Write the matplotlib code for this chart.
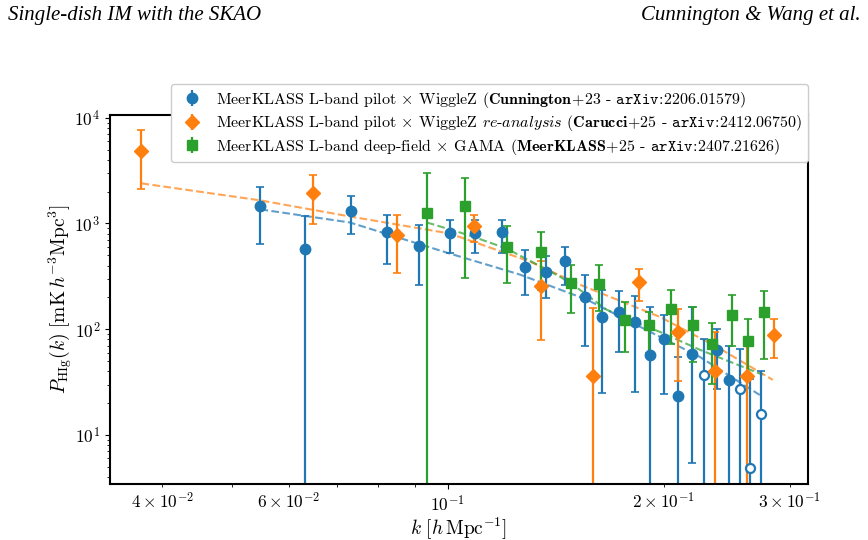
import numpy as np
import matplotlib
matplotlib.use("Agg")
import matplotlib.pyplot as plt

plt.rcParams['font.family'] = 'serif'
plt.rcParams['font.serif'] = ['cmr10', 'DejaVu Serif']
plt.rcParams['mathtext.fontset'] = 'cm'
plt.rcParams['axes.formatter.use_mathtext'] = True
plt.rcParams['axes.unicode_minus'] = False

# ---- Cunnington+23 (blue) ----
k_c23 = [0.0548, 0.0632, 0.0732, 0.0822, 0.0911, 0.1006, 0.1091, 0.1189, 0.128, 0.137,
         0.1456, 0.1553, 0.164, 0.1733, 0.1823, 0.1912, 0.2001, 0.2094, 0.2189, 0.2276,
         0.2372, 0.2465, 0.2554, 0.2637, 0.2733]
P_c23 = [1449, 579, 1300, 822, 618, 804, 804, 822, 391, 351,
         437, 203, 131, 147, 118, 57.3, 81.3, 23.4, 58.6, 37.1,
         64, 33.2, 27.3, 4.86, 15.8]
lo_c23 = [646, 0, 803, 418, 264, 531, 520, 520, 212, 199,
          264, 70, 25, 61, 25.6, 0, 24.5, 0, 5.43, 0,
          27.3, 0, 0, 0, 0]
hi_c23 = [2193, 1165, 1803, 1191, 957, 1067, 1067, 1067, 567, 497,
          593, 329, 237, 232, 208, 163, 137, 55, 163, 81.3,
          101, 69.8, 65.3, 34, 40.5]
neg_c23 = [0, 0, 0, 0, 0, 0, 0, 0, 0, 0,
           0, 0, 0, 0, 0, 0, 0, 0, 0, 1,
           0, 0, 1, 1, 1]

# ---- Carucci+25 (orange) ----
k_c25 = [0.0374, 0.0648, 0.0849, 0.1087, 0.1348, 0.1593, 0.1847, 0.2094, 0.2357, 0.2612, 0.2849]
P_c25 = [4808, 1923, 770, 937, 258, 36.2, 282, 94.6, 40.5, 36.2, 88.7]
lo_c25 = [2099, 978, 343, 675, 79.4, 0, 186, 32.5, 0, 0, 53.7]
hi_c25 = [7620, 2851, 1191, 1191, 437, 160, 374, 156, 94.6, 71, 126]

# ---- MeerKLASS+25 (green) ----
k_mk = [0.0935, 0.1056, 0.1208, 0.1348, 0.1484, 0.1624, 0.1765, 0.1906, 0.2046, 0.2196,
        0.2335, 0.2489, 0.2620, 0.2760]
P_mk = [1244, 1449, 593, 543, 276, 270, 121, 110, 156, 110,
        72.9, 137, 77.8, 147]
lo_mk = [0, 308, 276, 237, 143, 150, 61, 60, 72.9, 49.2,
         30.4, 69.8, 36.2, 52.5]
hi_mk = [2980, 2672, 937, 822, 408, 408, 182, 147, 237, 163,
         115, 212, 126, 232]

# ---- model curves (dashed) ----
k_mod_c23 = [0.0548, 0.0730, 0.1006, 0.1260, 0.1563, 0.1853, 0.2246, 0.2723]
P_mod_c23 = [1358, 1022, 520, 329, 190.6, 105.7, 54.8, 23.9]
k_mod_c25 = [0.0374, 0.0548, 0.0730, 0.1006, 0.1301, 0.1528, 0.1975, 0.2372, 0.2840]
P_mod_c25 = [2394, 1652, 1165, 804, 437, 264, 131, 68.2, 33.2]
k_mod_mk = [0.0935, 0.1073, 0.1208, 0.1433, 0.1527, 0.1666, 0.1835, 0.1975, 0.2246, 0.2750]
P_mod_mk = [1022, 770, 579, 315, 237, 153, 115, 94.6, 64, 37.1]

lab_c23 = (r'MeerKLASS L-band pilot $\times$ WiggleZ ($\mathbf{Cunnington\!+\!23}$ - '
           r'$\mathtt{arXiv\!:\!2206.01579}$)')
lab_c25 = (r'MeerKLASS L-band pilot $\times$ WiggleZ $\mathit{re}$-$\mathit{analysis}$ '
           r'($\mathbf{Carucci\!+\!25}$ - $\mathtt{arXiv\!:\!2412.06750}$)')
lab_mk = (r'MeerKLASS L-band deep-field $\times$ GAMA ($\mathbf{MeerKLASS\!+\!25}$ - '
          r'$\mathtt{arXiv\!:\!2407.21626}$)')

C_BLUE, C_ORANGE, C_GREEN = '#1f77b4', '#ff7f0e', '#2ca02c'

fig = plt.figure(figsize=(8.68, 5.40), dpi=100)
ax = fig.add_axes([0.1267, 0.1037, 0.8042, 0.6833])
ax.set_xscale('log')
ax.set_yscale('log')

ax.plot(k_mod_c23, P_mod_c23, ls='--', color=C_BLUE, lw=1.5, alpha=0.7, zorder=1)
ax.plot(k_mod_c25, P_mod_c25, ls='--', color=C_ORANGE, lw=1.5, alpha=0.7, zorder=1)
ax.plot(k_mod_mk, P_mod_mk, ls='--', color=C_GREEN, lw=1.5, alpha=0.7, zorder=1)


def draw(k, P, lo, hi, color, marker, ms, label, neg=None):
    k = np.array(k); P = np.array(P); lo = np.array(lo, float); hi = np.array(hi, float)
    yerr = np.vstack([P - lo, hi - P])
    ax.errorbar(k, P, yerr=yerr, fmt='none', ecolor=color, elinewidth=1.6,
                capsize=3, capthick=1.2, zorder=2)
    if neg is None:
        neg = np.zeros(len(k), bool)
    neg = np.array(neg, bool)
    ax.plot(k[~neg], P[~neg], ls='none', marker=marker, ms=ms, color=color, zorder=3)
    if neg.any():
        ax.plot(k[neg], P[neg], ls='none', marker=marker, ms=ms - 1, mfc='white',
                mec=color, mew=1.6, zorder=3)
    ax.errorbar([], [], yerr=[], fmt=marker, color=color, ms=ms, elinewidth=1.6,
                capsize=3, capthick=1.2, label=label)


draw(k_c23, P_c23, lo_c23, hi_c23, C_BLUE, 'o', 7.5, lab_c23, neg_c23)
draw(k_c25, P_c25, lo_c25, hi_c25, C_ORANGE, 'D', 7, lab_c25)
draw(k_mk, P_mk, lo_mk, hi_mk, C_GREEN, 's', 7, lab_mk)

ax.set_xlim(0.0338, 0.318)
ax.set_ylim(3.44, 1.06e4)

for s in ax.spines.values():
    s.set_linewidth(1.5)
ax.tick_params(which='both', labelsize=12.5)

ax.set_xlabel(r'$k\ [h\,{\rm Mpc}^{-1}]$', fontsize=14, labelpad=1)
ax.set_ylabel(r'$P_{\rm HIg}(k)\ [{\rm mK}\,h^{-3}{\rm Mpc}^3]$', fontsize=14, labelpad=0.5)

leg = ax.legend(loc='upper right', bbox_to_anchor=(1.0, 1.084), borderaxespad=0,
                fontsize=11.5, framealpha=1, handletextpad=0.5, labelspacing=0.22,
                borderpad=0.35)

fig.text(0.009, 0.972, 'Single-dish IM with the SKAO', family='Liberation Serif',
         style='italic', fontsize=15, va='center', ha='left')
fig.text(0.991, 0.972, 'Cunnington & Wang et al.', family='Liberation Serif',
         style='italic', fontsize=15, va='center', ha='right')

fig.savefig('out.png', dpi=100)
